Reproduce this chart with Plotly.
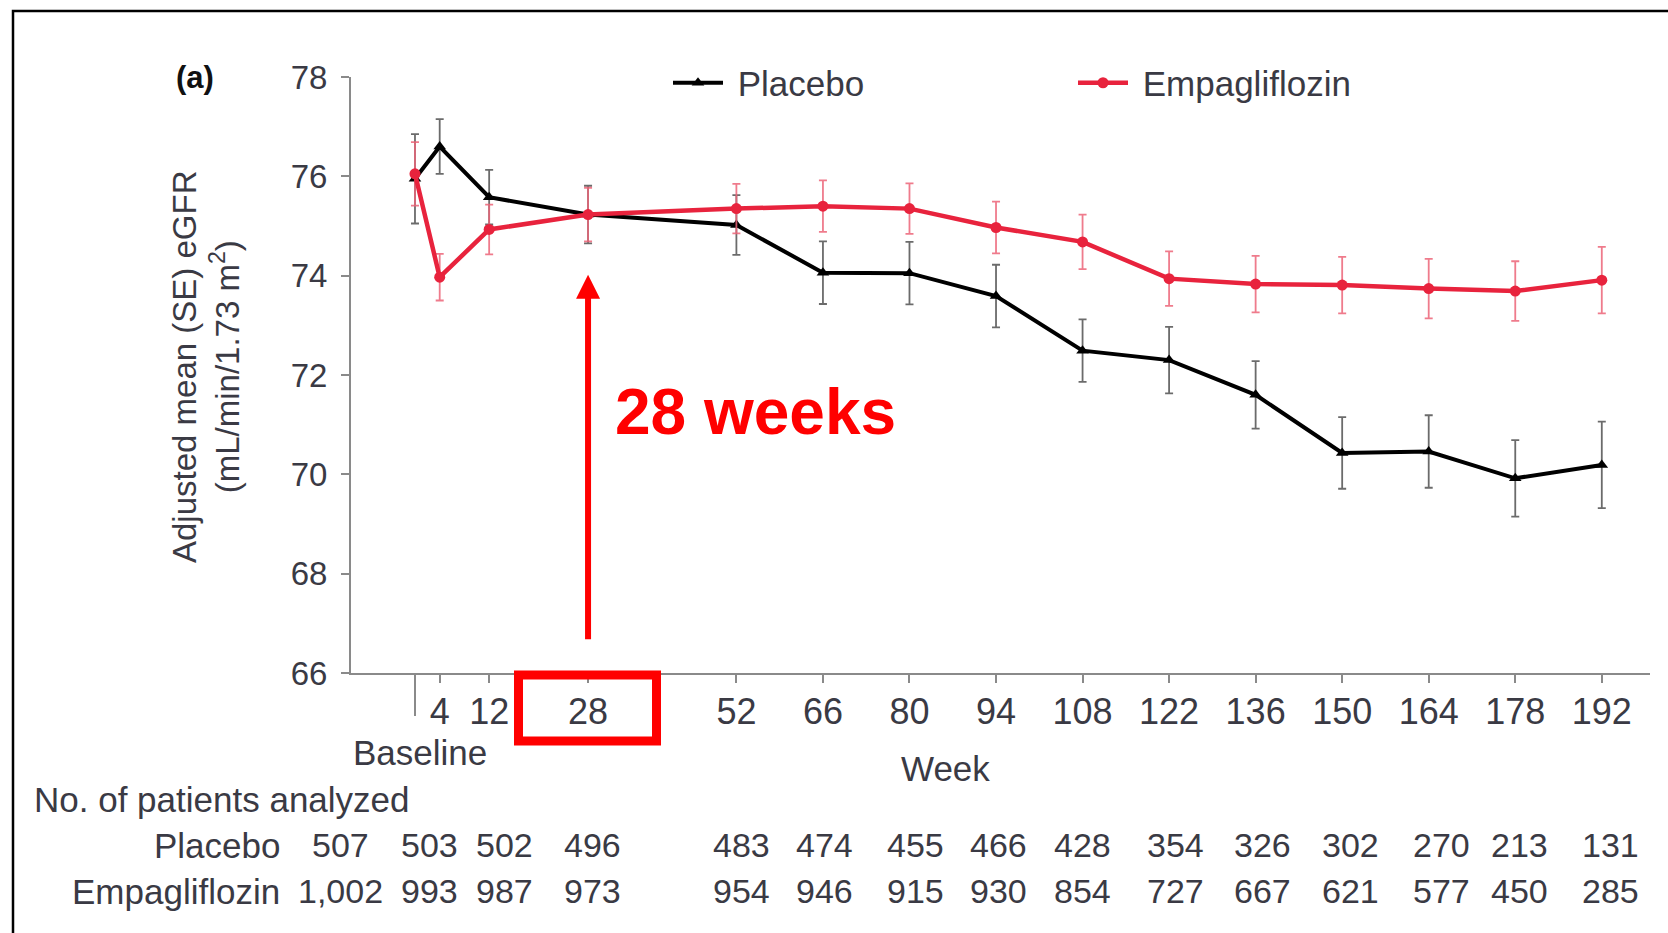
import plotly.graph_objects as go

# ---- data -------------------------------------------------------------
weeks = [0, 4, 12, 28, 52, 66, 80, 94, 108, 122, 136, 150, 164, 178, 192]
tick_weeks = [4, 12, 28, 52, 66, 80, 94, 108, 122, 136, 150, 164, 178, 192]
tick_labels = [str(w) for w in tick_weeks]

placebo_mean = [75.95, 76.60, 75.58, 75.23, 75.02, 74.06, 74.05, 73.59, 72.49,
                72.30, 71.60, 70.43, 70.46, 69.92, 70.19]
placebo_se = [0.90, 0.55, 0.55, 0.58, 0.60, 0.63, 0.63, 0.63, 0.63,
              0.67, 0.68, 0.72, 0.73, 0.77, 0.87]

empa_mean = [76.05, 73.97, 74.93, 75.23, 75.35, 75.40, 75.35, 74.97, 74.68,
             73.94, 73.83, 73.81, 73.74, 73.69, 73.91]
empa_se = [0.64, 0.47, 0.50, 0.54, 0.50, 0.52, 0.51, 0.52, 0.55,
           0.55, 0.57, 0.57, 0.60, 0.60, 0.67]

placebo_n = ["507", "503", "502", "496", "483", "474", "455", "466", "428",
             "354", "326", "302", "270", "213", "131"]
empa_n = ["1,002", "993", "987", "973", "954", "946", "915", "930", "854",
          "727", "667", "621", "577", "450", "285"]

highlight_week = 28

# ---- layout geometry --------------------------------------------------
W, H = 1668, 933
ML, MR, MT, MB = 351, 18, 77, 260
PW = W - ML - MR
PH = H - MT - MB


def px_x(p):
    return (p - ML) / PW


def px_y(p):
    return (H - MB - p) / PH


# horizontal centres of the patient-count columns
table_cols_px = [340, 429, 504, 592, 741, 824, 915, 998, 1082, 1175,
                 1262, 1350, 1441, 1519, 1610]

FONT = "Liberation Sans, Arial, sans-serif"
TXT = "#3a3a44"
AXIS = "#8a8a8a"
RED = "#e8233d"
ALERT = "#ff0000"
NBSP = "\u00a0"

fig = go.Figure()

fig.add_trace(go.Scatter(
    x=weeks, y=placebo_mean, name=NBSP + "Placebo",
    mode="lines+markers",
    line=dict(color="black", width=4),
    marker=dict(symbol="triangle-up", size=11, color="black"),
    error_y=dict(type="data", array=placebo_se, color="rgba(70,70,70,0.8)",
                 thickness=1.8, width=4),
))
fig.add_trace(go.Scatter(
    x=weeks, y=empa_mean, name=NBSP + "Empagliflozin",
    mode="lines+markers",
    line=dict(color=RED, width=4.5),
    marker=dict(symbol="circle", size=11, color=RED),
    error_y=dict(type="data", array=empa_se, color="rgba(236,100,120,0.85)",
                 thickness=1.8, width=4),
))

annotations = []


def text(t, x, y, size=34, color=TXT, xanchor="center", **kw):
    annotations.append(dict(
        text=t, x=x, y=y, xref="paper", yref="paper", showarrow=False,
        xanchor=xanchor, yanchor="middle",
        font=dict(family=FONT, size=size, color=color), **kw))


text("<b>(a)</b>", px_x(195), px_y(77), size=31, color="#111111")
text("Adjusted mean (SE) eGFR<br>(mL/min/1.73 m<sup>2</sup>)",
     px_x(206), px_y(367), size=33, textangle=-90)
text("Baseline", px_x(420), px_y(752), size=35)
text("Week", px_x(945), px_y(768), size=35)
text("No. of patients analyzed", px_x(32), px_y(800), size=35, xanchor="left")
text("Placebo", px_x(282), px_y(845), size=35, xanchor="right")
text("Empagliflozin", px_x(282), px_y(891), size=35, xanchor="right")
for cx, a, b in zip(table_cols_px, placebo_n, empa_n):
    text(a, px_x(cx), px_y(845))
    text(b, px_x(cx), px_y(891))

text("<b>28 weeks</b>", px_x(613), px_y(412), size=64, color=ALERT,
     xanchor="left")

# arrow pointing at the week-28 time point
annotations.append(dict(
    x=highlight_week, y=74.02, ax=highlight_week, ay=66.65,
    xref="x", yref="y", axref="x", ayref="y",
    text="", showarrow=True, arrowhead=2, arrowsize=0.8,
    arrowwidth=6, arrowcolor=ALERT,
))

shapes = [
    # long baseline tick
    dict(type="line", xref="x", yref="paper", x0=0, x1=0,
         y0=px_y(673), y1=px_y(716), line=dict(color=AXIS, width=2)),
    # box around the week-28 label
    dict(type="rect", xref="paper", yref="paper",
         x0=px_x(518.5), x1=px_x(656.5), y0=px_y(741), y1=px_y(675),
         line=dict(color=ALERT, width=9)),
    # frame around the panel
    dict(type="rect", xref="paper", yref="paper",
         x0=px_x(13), x1=px_x(1700), y0=px_y(960), y1=px_y(11),
         line=dict(color="black", width=2.5)),
]

fig.update_layout(
    width=W, height=H,
    margin=dict(l=ML, r=MR, t=MT, b=MB, pad=0),
    paper_bgcolor="white", plot_bgcolor="white",
    font=dict(family=FONT, size=34, color=TXT),
    showlegend=True,
    legend=dict(
        orientation="h", x=px_x(668), y=px_y(83),
        xanchor="left", yanchor="middle",
        font=dict(family=FONT, size=35, color=TXT),
        itemwidth=50, entrywidth=340, entrywidthmode="pixels",
        bgcolor="rgba(0,0,0,0)",
    ),
    xaxis=dict(
        range=[-10.35, 199.8], showgrid=False, zeroline=False,
        showline=True, linecolor=AXIS, linewidth=2,
        tickmode="array", tickvals=tick_weeks, ticktext=tick_labels,
        ticks="outside", ticklen=8, tickwidth=2, tickcolor=AXIS,
        ticklabelstandoff=-2,
        tickfont=dict(family=FONT, size=36, color=TXT),
    ),
    yaxis=dict(
        range=[66, 78], showgrid=False, zeroline=False,
        showline=True, linecolor=AXIS, linewidth=2,
        tickmode="array", tickvals=[66, 68, 70, 72, 74, 76, 78],
        ticks="outside", ticklen=8, tickwidth=2, tickcolor=AXIS,
        ticklabelstandoff=7,
        tickfont=dict(family=FONT, size=33, color=TXT),
    ),
    annotations=annotations,
    shapes=shapes,
)

fig.write_html("out.html")
